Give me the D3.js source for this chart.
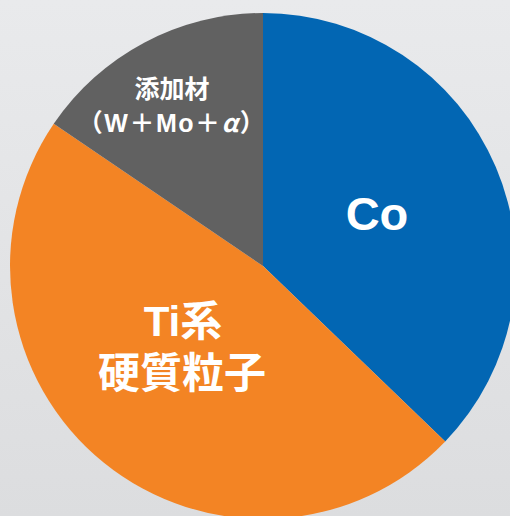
<!DOCTYPE html>
<html>
<head>
<meta charset="utf-8">
<script src="https://cdn.jsdelivr.net/npm/d3@7"></script>
<style>
  html, body { margin: 0; padding: 0; overflow: hidden; }
  .label { fill: #fff; font-weight: bold; font-family: "Liberation Sans", "Noto Sans CJK JP", sans-serif; }
  .cjk { font-family: "Noto Sans CJK JP", sans-serif; }
</style>
</head>
<body>
<div id="wrapper"></div>
<script>
// data
const categories = ["Co", "Ti系硬質粒子", "添加材（W+Mo+α）"];
const shares = [37.2, 47.3, 15.5];
const colors = ["#0266b3", "#f38424", "#616161"];

const dimensions = { width: 510, height: 516, cx: 263, cy: 266, radius: 253 };

const svg = d3.select("#wrapper")
  .append("svg")
  .attr("width", dimensions.width)
  .attr("height", dimensions.height);

const grad = svg.append("defs").append("linearGradient")
  .attr("id", "bg").attr("x1", 0).attr("y1", 0).attr("x2", 0).attr("y2", 1);
grad.append("stop").attr("offset", "0%").attr("stop-color", "#e9eaec");
grad.append("stop").attr("offset", "100%").attr("stop-color", "#dcdddf");

svg.append("rect")
  .attr("width", dimensions.width)
  .attr("height", dimensions.height)
  .attr("fill", "url(#bg)");

const bounds = svg.append("g")
  .attr("transform", `translate(${dimensions.cx},${dimensions.cy})`);

const pie = d3.pie().sort(null).value(d => d);
const arcs = pie(shares);
const arc = d3.arc().innerRadius(0).outerRadius(dimensions.radius);

bounds.selectAll("path")
  .data(arcs)
  .join("path")
  .attr("d", arc)
  .attr("fill", (d, i) => colors[i]);

// labels
bounds.append("text")
  .attr("class", "label")
  .attr("x", 114).attr("y", -36)
  .attr("text-anchor", "middle")
  .style("font-size", "47px")
  .text("Co");

const tiLabel = bounds.append("text")
  .attr("class", "label")
  .attr("text-anchor", "middle")
  .style("font-size", "42px");
tiLabel.append("tspan").attr("x", -80).attr("y", 70).text("Ti系");
tiLabel.append("tspan").attr("x", -81).attr("y", 122).text("硬質粒子");

const addLabel = bounds.append("text")
  .attr("class", "label")
  .attr("text-anchor", "middle")
  .style("font-size", "25px");
addLabel.append("tspan").attr("x", -91).attr("y", -168).text("添加材");
const line2 = addLabel.append("tspan")
  .attr("x", -91).attr("y", -134)
  .style("letter-spacing", "1.5px");
line2.append("tspan").attr("class", "cjk").text("（");
line2.append("tspan").text("W");
line2.append("tspan").attr("class", "cjk").text("＋");
line2.append("tspan").text("Mo");
line2.append("tspan").attr("class", "cjk").text("＋");
line2.append("tspan").attr("class", "cjk").style("font-style", "italic").text("α");
line2.append("tspan").attr("class", "cjk").text("）");
</script>
</body>
</html>
